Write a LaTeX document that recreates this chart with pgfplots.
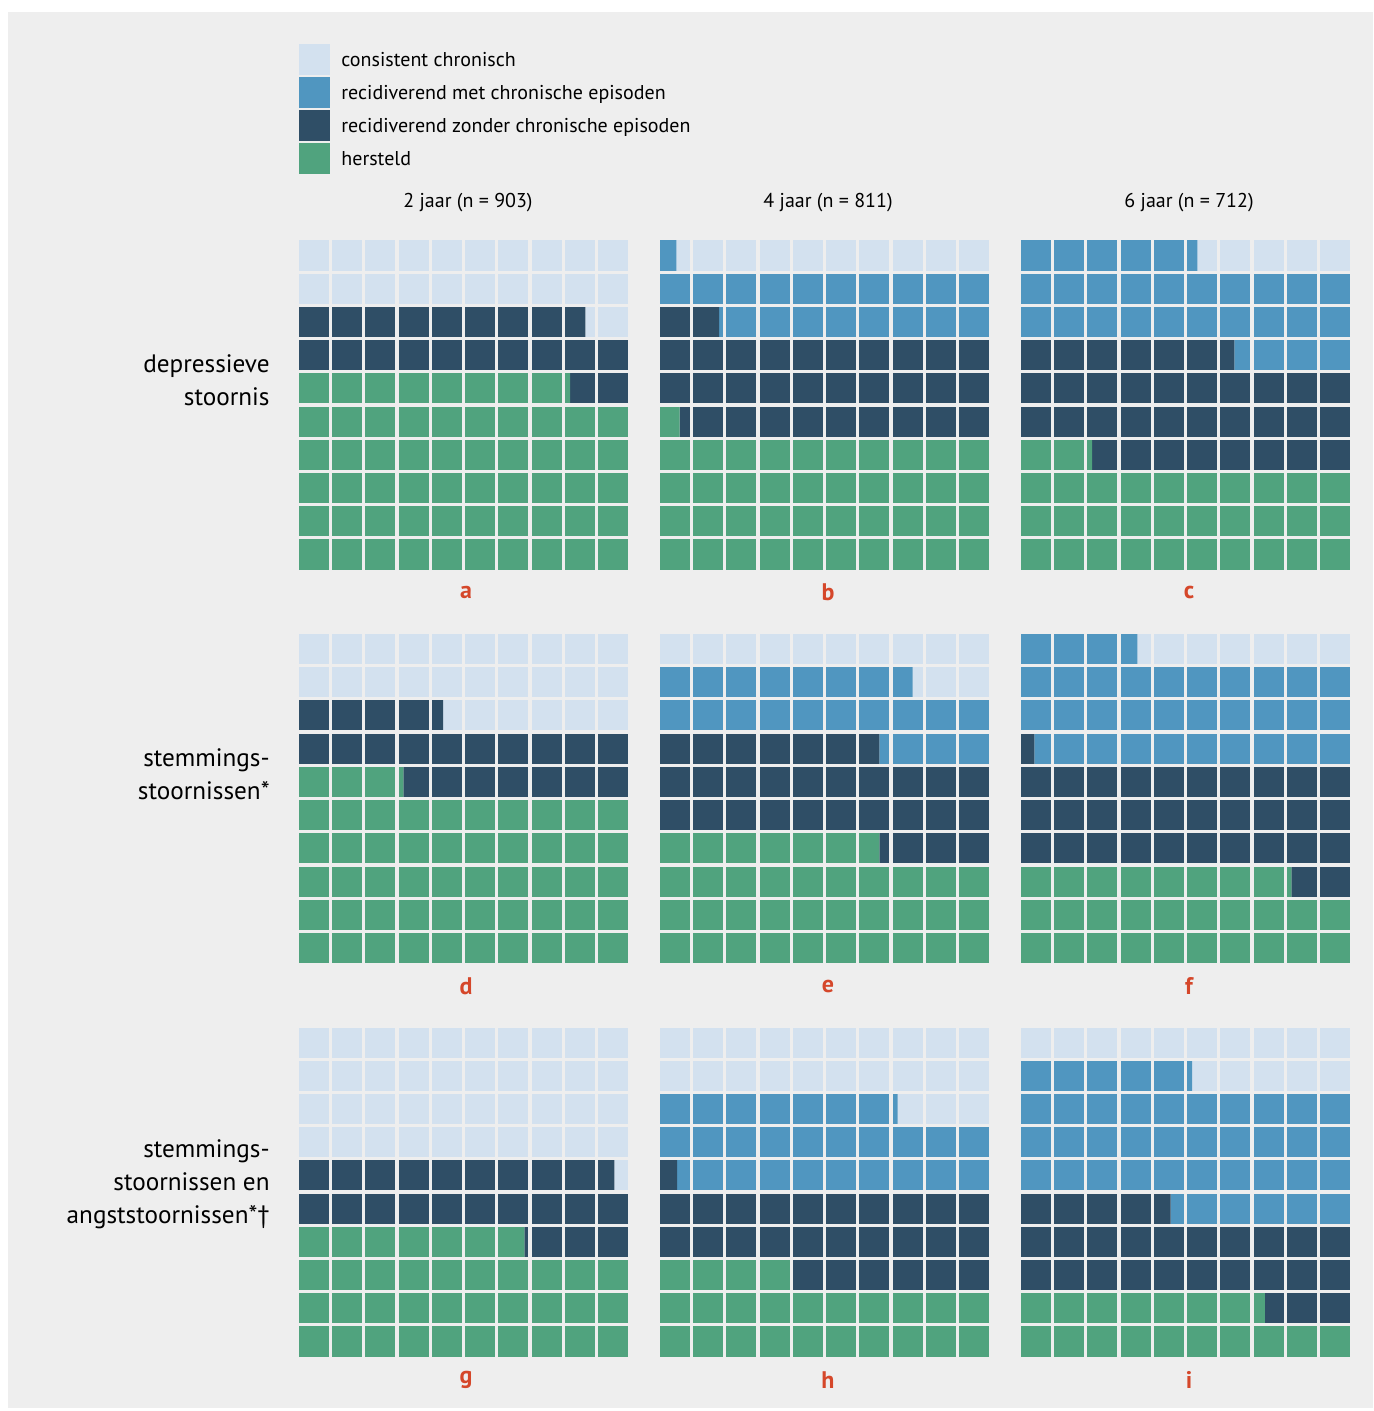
\documentclass[border=0pt]{standalone}
\usepackage{fontspec}
\setmainfont{PT Sans}
\usepackage{pgfplots}
\usepackage{pgfplotstable}
\pgfplotsset{compat=1.18}
\definecolor{cL}{HTML}{D3E1EF}
\definecolor{cM}{HTML}{5096C0}
\definecolor{cD}{HTML}{2F4E66}
\definecolor{cG}{HTML}{50A37E}
\definecolor{bg}{HTML}{EEEEEE}
\definecolor{lab}{HTML}{D5472A}

% columns: y (row centre, bottom = 0.5), hersteld, zonder, met, consistent
\pgfplotstableread{
y g d m l
0.5 10 0 0 0
1.5 10 0 0 0
2.5 10 0 0 0
3.5 10 0 0 0
4.5 10 0 0 0
5.5 8.21 1.79 0 0
6.5 0 10 0 0
7.5 0 8.67 0 1.33
8.5 0 0 0 10
9.5 0 0 0 10
}\tA
\pgfplotstableread{
y g d m l
0.5 10 0 0 0
1.5 10 0 0 0
2.5 10 0 0 0
3.5 10 0 0 0
4.5 0.64 9.36 0 0
5.5 0 10 0 0
6.5 0 10 0 0
7.5 0 1.83 8.17 0
8.5 0 0 10 0
9.5 0 0 0.54 9.46
}\tB
\pgfplotstableread{
y g d m l
0.5 10 0 0 0
1.5 10 0 0 0
2.5 10 0 0 0
3.5 2.19 7.81 0 0
4.5 0 10 0 0
5.5 0 10 0 0
6.5 0 6.47 3.53 0
7.5 0 0 10 0
8.5 0 0 10 0
9.5 0 0 5.36 4.64
}\tC
\pgfplotstableread{
y g d m l
0.5 10 0 0 0
1.5 10 0 0 0
2.5 10 0 0 0
3.5 10 0 0 0
4.5 10 0 0 0
5.5 3.19 6.81 0 0
6.5 0 10 0 0
7.5 0 4.39 0 5.61
8.5 0 0 0 10
9.5 0 0 0 10
}\tD
\pgfplotstableread{
y g d m l
0.5 10 0 0 0
1.5 10 0 0 0
2.5 10 0 0 0
3.5 6.65 3.35 0 0
4.5 0 10 0 0
5.5 0 10 0 0
6.5 0 6.65 3.35 0
7.5 0 0 10 0
8.5 0 0 7.65 2.35
9.5 0 0 0 10
}\tE
\pgfplotstableread{
y g d m l
0.5 10 0 0 0
1.5 10 0 0 0
2.5 8.19 1.81 0 0
3.5 0 10 0 0
4.5 0 10 0 0
5.5 0 10 0 0
6.5 0 0.45 9.55 0
7.5 0 0 10 0
8.5 0 0 10 0
9.5 0 0 3.55 6.45
}\tF
\pgfplotstableread{
y g d m l
0.5 10 0 0 0
1.5 10 0 0 0
2.5 10 0 0 0
3.5 6.83 3.17 0 0
4.5 0 10 0 0
5.5 0 9.54 0 0.46
6.5 0 0 0 10
7.5 0 0 0 10
8.5 0 0 0 10
9.5 0 0 0 10
}\tG
\pgfplotstableread{
y g d m l
0.5 10 0 0 0
1.5 10 0 0 0
2.5 4 6 0 0
3.5 0 10 0 0
4.5 0 10 0 0
5.5 0 0.56 9.44 0
6.5 0 0 10 0
7.5 0 0 7.2 2.8
8.5 0 0 0 10
9.5 0 0 0 10
}\tH
\pgfplotstableread{
y g d m l
0.5 10 0 0 0
1.5 7.39 2.61 0 0
2.5 0 10 0 0
3.5 0 10 0 0
4.5 0 4.55 5.45 0
5.5 0 0 10 0
6.5 0 0 10 0
7.5 0 0 10 0
8.5 0 0 5.2 4.8
9.5 0 0 0 10
}\tI

\pgfplotsset{
  waffle/.style={
    at={#1}, anchor=north west,
    width=166.1pt, height=166.1pt, scale only axis,
    xmin=0, xmax=10, ymin=0, ymax=10,
    xbar stacked, bar width=1,
    xtick={0,...,10}, ytick={0,...,10},
    xticklabels={}, yticklabels={},
    major tick length=0pt,
    grid=major, major grid style={line width=1.6pt, draw=bg},
    axis line style={draw=none},
    axis on top,
  },
  cell/.style={fill=#1, draw=none,
    legend image code/.code={\fill[fill=#1] (0pt,-7.25pt) rectangle (15.5pt,8.25pt);}},
}
\newcommand{\waffle}[1]{%
  \addplot[cell=cG] table[x=g,y=y]{#1};
  \addplot[cell=cD] table[x=d,y=y]{#1};
  \addplot[cell=cM] table[x=m,y=y]{#1};
  \addplot[cell=cL] table[x=l,y=y]{#1};
}

\begin{document}
\begin{tikzpicture}
\fill[white] (0,0) rectangle (686.5pt,-705.5pt);
\useasboundingbox (0,0) rectangle (686.5pt,-705.5pt);
\fill[bg] (4pt,-6pt) rectangle (686.5pt,-704pt);

\begin{axis}[waffle={(148.7pt,-119.45pt)},
  reverse legend,
  legend style={at={(0.0048,1.5867)}, anchor=north west, draw=none, fill=none,
    font=\fontsize{10}{11}\selectfont, row sep=1pt, column sep=5.5pt,
    inner sep=0pt, cells={anchor=west}, nodes={inner sep=0pt}},
  legend entries={hersteld, recidiverend zonder chronische episoden, recidiverend met chronische episoden, consistent chronisch}]
\waffle{\tA}
\end{axis}
\begin{axis}[waffle={(329.2pt,-119.45pt)}]\waffle{\tB}\end{axis}
\begin{axis}[waffle={(509.7pt,-119.45pt)}]\waffle{\tC}\end{axis}
\begin{axis}[waffle={(148.7pt,-316.2pt)}]\waffle{\tD}\end{axis}
\begin{axis}[waffle={(329.2pt,-316.2pt)}]\waffle{\tE}\end{axis}
\begin{axis}[waffle={(509.7pt,-316.2pt)}]\waffle{\tF}\end{axis}
\begin{axis}[waffle={(148.7pt,-512.95pt)}]\waffle{\tG}\end{axis}
\begin{axis}[waffle={(329.2pt,-512.95pt)}]\waffle{\tH}\end{axis}
\begin{axis}[waffle={(509.7pt,-512.95pt)}]\waffle{\tI}\end{axis}

\tikzset{ct/.style={font=\fontsize{10}{11}\selectfont, anchor=center, inner sep=0pt},
         rl/.style={font=\fontsize{12.6}{16.5}\selectfont, align=right, anchor=east, inner sep=0pt},
         lt/.style={font=\fontsize{12}{14}\selectfont\bfseries, text=lab, anchor=center, inner sep=0pt}}
\node[ct] at (234pt,-101.5pt) {2 jaar (n = 903)};
\node[ct] at (414pt,-101.5pt) {4 jaar (n = 811)};
\node[ct] at (594.5pt,-101.5pt) {6 jaar (n = 712)};

\node[rl] at (135pt,-190.25pt) {depressieve\\stoornis};
\node[rl] at (135pt,-387.25pt) {stemmings-\\stoornissen*};
\node[rl] at (135pt,-592pt) {stemmings-\\stoornissen en\\angststoornissen*†};

\node[lt] at (233pt,-296pt) {a};
\node[lt] at (414pt,-296pt) {b};
\node[lt] at (594.5pt,-296pt) {c};
\node[lt] at (233pt,-493pt) {d};
\node[lt] at (414pt,-493pt) {e};
\node[lt] at (594.5pt,-493pt) {f};
\node[lt] at (233pt,-690pt) {g};
\node[lt] at (414pt,-690pt) {h};
\node[lt] at (594.5pt,-690pt) {i};
\end{tikzpicture}
\end{document}
